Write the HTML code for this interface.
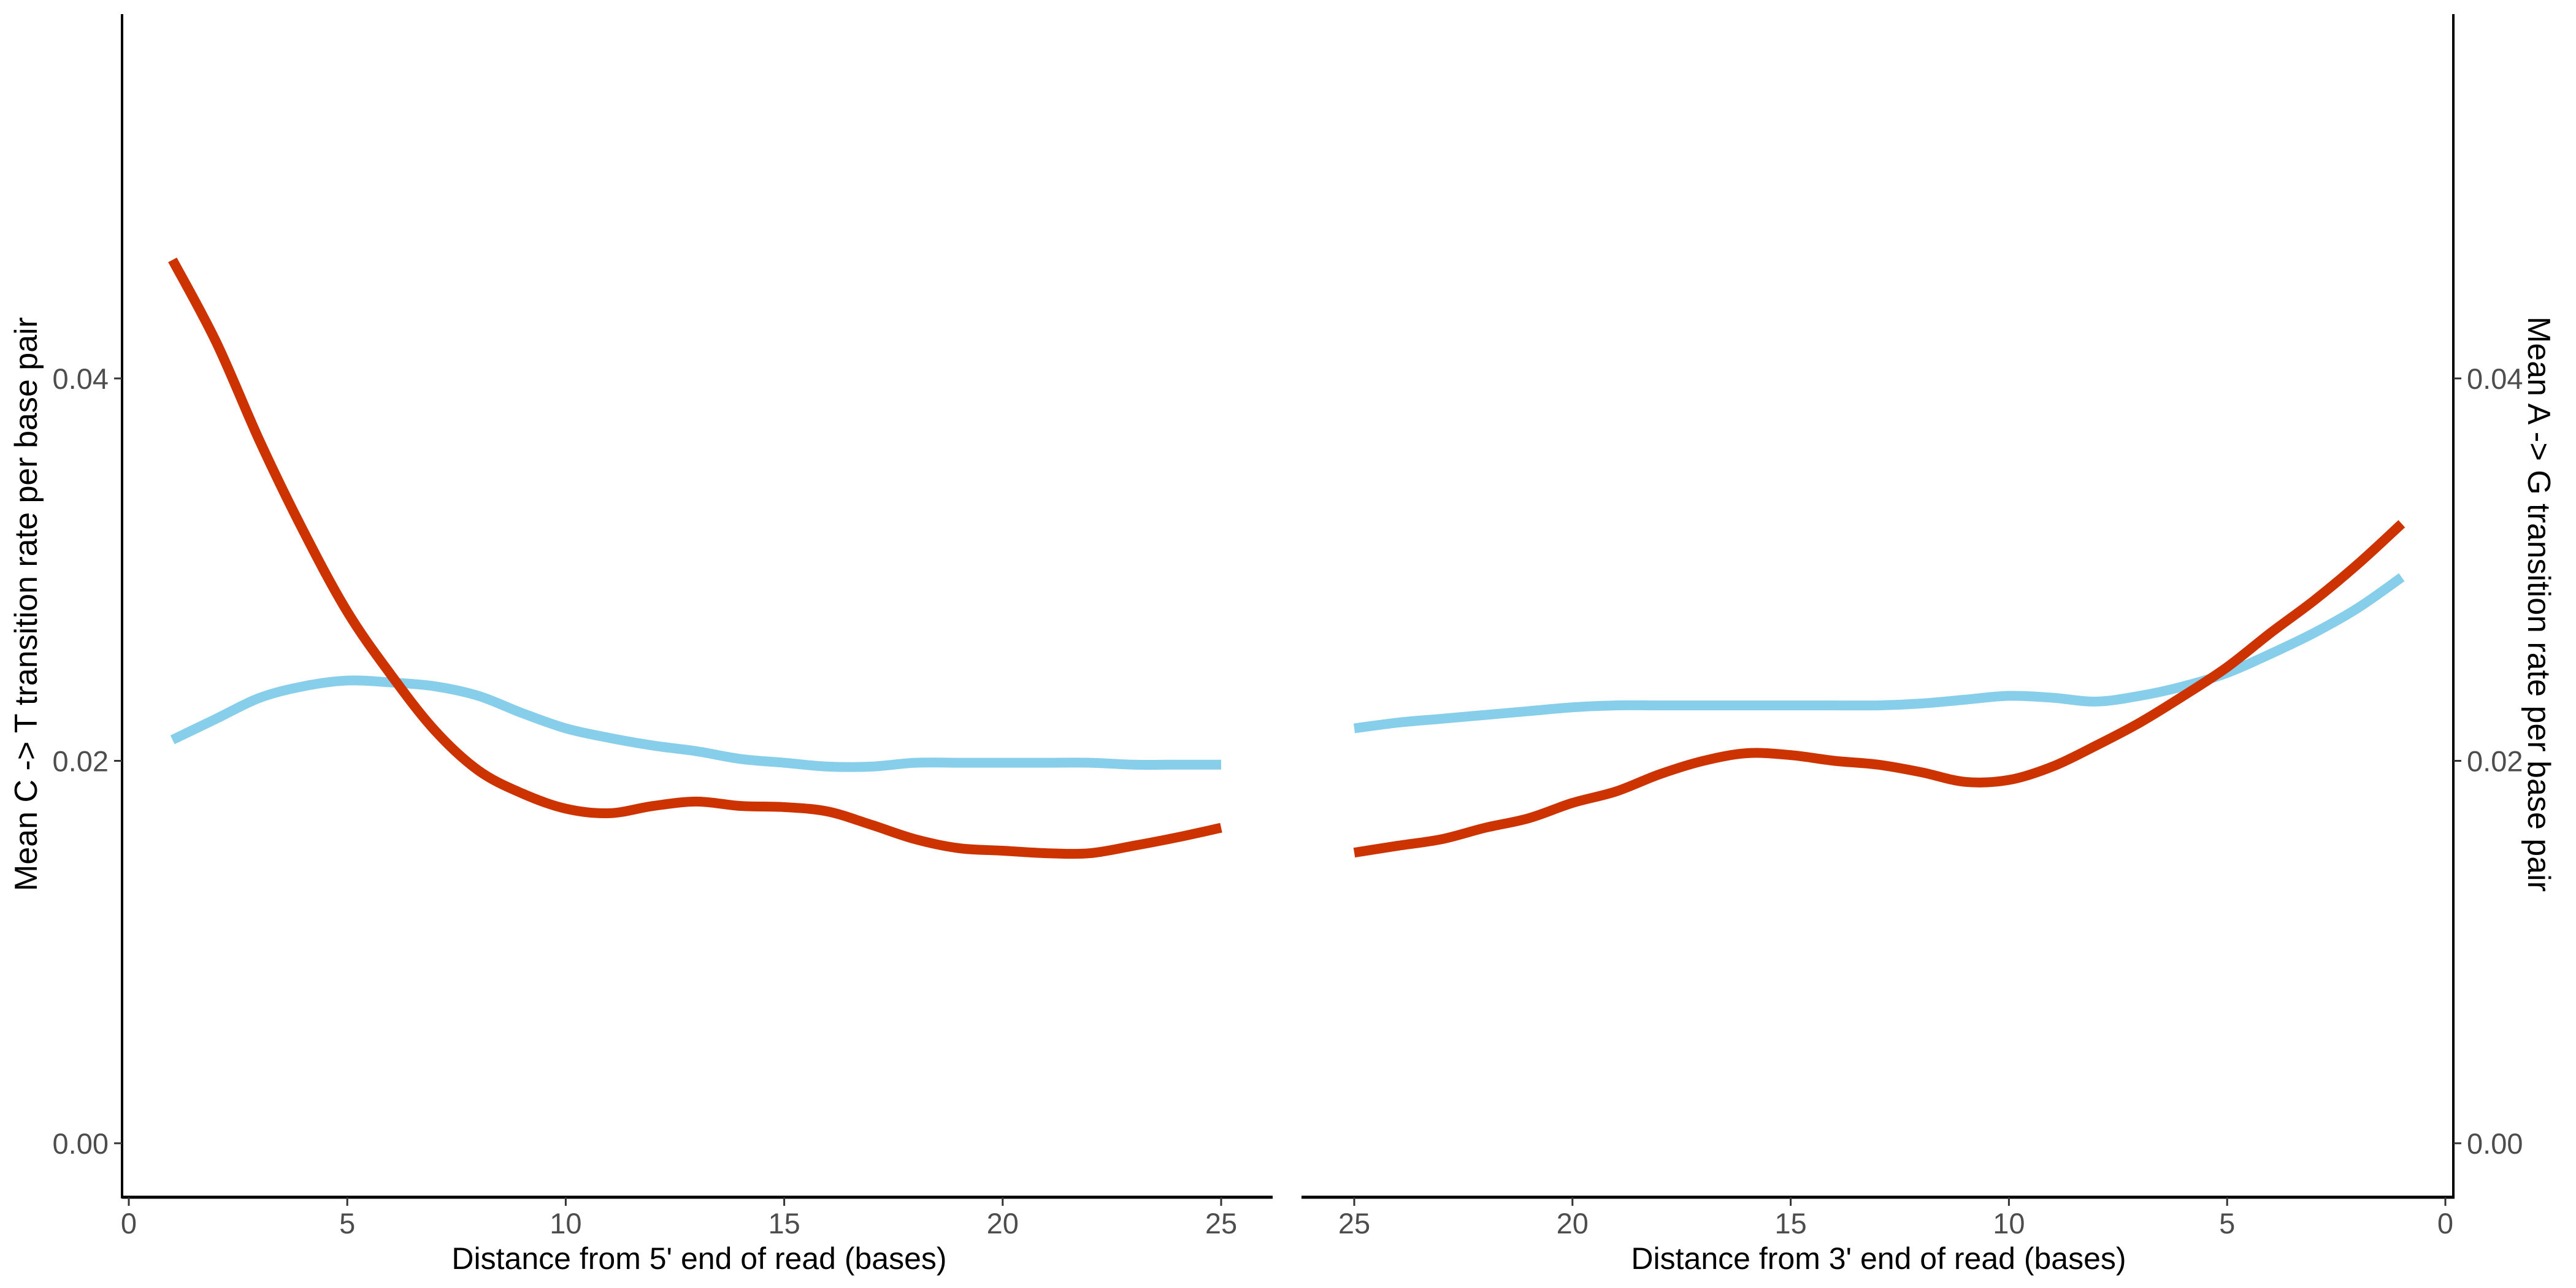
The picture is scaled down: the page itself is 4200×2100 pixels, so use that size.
<!DOCTYPE html>
<html><head><meta charset="utf-8"><style>
html,body{margin:0;padding:0;background:#fff}
svg{display:block}
text{font-family:"Liberation Sans",sans-serif}
</style></head><body>
<svg id="chart" width="4200" height="2100" viewBox="0 0 4200 2100" xmlns="http://www.w3.org/2000/svg">
<g id="left"></g>
<g id="right"></g>
<text x="0" y="0" transform="translate(60,985) rotate(-90)" text-anchor="middle" font-size="52" fill="#000">Mean C -&gt; T transition rate per base pair</text>
<text x="0" y="0" transform="translate(4122,985) rotate(90)" text-anchor="middle" font-size="52" fill="#000">Mean A -&gt; G transition rate per base pair</text>
<text x="1140" y="2069" text-anchor="middle" font-size="50" fill="#000">Distance from 5' end of read (bases)</text>
<text x="3063" y="2069" text-anchor="middle" font-size="50" fill="#000">Distance from 3' end of read (bases)</text>
</svg>
<script>
const positions = [1,2,3,4,5,6,7,8,9,10,11,12,13,14,15,16,17,18,19,20,21,22,23,24,25];
const leftRed = [0.0462,0.0419,0.0367,0.0320,0.0278,0.0245,0.0216,0.0195,0.0183,0.0175,0.01726,0.01764,0.01787,0.01764,0.01758,0.01735,0.01665,0.0159,0.01543,0.0153,0.01517,0.01517,0.01556,0.0160,0.0165];
const leftBlue = [0.0211,0.0222,0.0233,0.0239,0.0242,0.0241,0.0239,0.0234,0.0225,0.0217,0.0212,0.0208,0.0205,0.0201,0.0199,0.0197,0.0197,0.0199,0.0199,0.0199,0.0199,0.0199,0.0198,0.0198,0.0198];
const rightRed = [0.0324,0.0303,0.0284,0.0267,0.0249,0.0234,0.0220,0.0208,0.0197,0.0190,0.0189,0.0194,0.0198,0.0200,0.0203,0.0204,0.0200,0.0193,0.0184,0.0178,0.0170,0.0165,0.0159,0.01556,0.0152];
const rightBlue = [0.0296,0.0280,0.0267,0.0256,0.0246,0.0239,0.0234,0.0231,0.0233,0.0234,0.0232,0.0230,0.0229,0.0229,0.0229,0.0229,0.0229,0.0229,0.0229,0.0228,0.0226,0.0224,0.0222,0.0220,0.0217];
const xTicks = [0,5,10,15,20,25];
const yTicks = [0,0.02,0.04];
const yTickLabels = ["0.00","0.02","0.04"];

const NS = "http://www.w3.org/2000/svg";
function yScale(v){ return 1864 - v*31175; }
function xLeft(b){ return 210 + b*71.24; }
function xRight(b){ return 3987 - b*71.16; }
function mk(tag, attrs, parent){
  const e = document.createElementNS(NS, tag);
  for (const k in attrs) e.setAttribute(k, attrs[k]);
  parent.appendChild(e); return e;
}
function smoothPath(pts){
  let d = "M"+pts[0][0]+","+pts[0][1];
  for (let i=0;i<pts.length-1;i++){
    const p0=pts[Math.max(0,i-1)], p1=pts[i], p2=pts[i+1], p3=pts[Math.min(pts.length-1,i+2)];
    const c1=[p1[0]+(p2[0]-p0[0])/6, p1[1]+(p2[1]-p0[1])/6];
    const c2=[p2[0]-(p3[0]-p1[0])/6, p2[1]-(p3[1]-p1[1])/6];
    d += " C"+c1[0]+","+c1[1]+" "+c2[0]+","+c2[1]+" "+p2[0]+","+p2[1];
  }
  return d;
}
function panel(g, xs, x0, x1, axisX, side, red, blue, label){
  const bp = mk("path",{d:smoothPath(positions.map((b,i)=>[xs(b),yScale(blue[i])])),fill:"none",stroke:"#87CEEB","stroke-width":16},g);
  
  
  const rp = mk("path",{d:smoothPath(positions.map((b,i)=>[xs(b),yScale(red[i])])),fill:"none",stroke:"#CC3300","stroke-width":16},g);
  
  
  const xa = mk("line",{x1:x0,x2:x1,y1:1952,y2:1952,stroke:"#000","stroke-width":5},g);
  
  
  xTicks.forEach(t=>{
    const tk = mk("line",{x1:xs(t),x2:xs(t),y1:1952,y2:1966,stroke:"#333","stroke-width":3},g);
    
    
    const tl = mk("text",{x:xs(t),y:2011,"text-anchor":"middle","font-size":47,fill:"#4d4d4d"},g);
    tl.textContent = String(t);
    
    
  });
  const ya = mk("line",{x1:axisX,x2:axisX,y1:23,y2:1954,stroke:"#000","stroke-width":4},g);
  
  
  yTicks.forEach((t,i)=>{
    const dir = side==="left"?-1:1;
    const tk = mk("line",{x1:axisX,x2:axisX+dir*13,y1:yScale(t),y2:yScale(t),stroke:"#333","stroke-width":3},g);
    
    
    const tl = mk("text",{x:axisX+dir*22,y:yScale(t)+17,"text-anchor":side==="left"?"end":"start","font-size":47,fill:"#4d4d4d"},g);
    tl.textContent = yTickLabels[i];
    
    
  });
}
panel(document.getElementById("left"), xLeft, 199, 2075, 199, "left", leftRed, leftBlue, "left");
panel(document.getElementById("right"), xRight, 2122, 4002, 4000, "right", rightRed, rightBlue, "right");
</script>
</body></html>
